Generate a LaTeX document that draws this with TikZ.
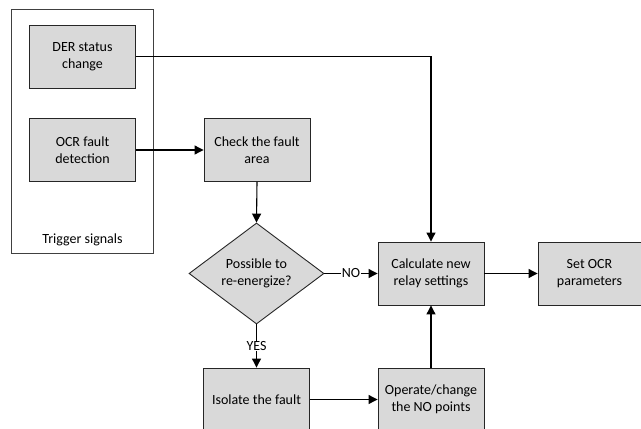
\documentclass[tikz,border=0pt]{standalone}
\usepackage{fontspec}
\setmainfont{Carlito}
\usetikzlibrary{shapes.geometric,arrows.meta}
\tikzset{
  box/.style={draw=black!85, fill=black!15, line width=0.9pt, minimum width=106pt, minimum height=63pt, align=center, inner sep=2pt, font=\fontsize{14}{16.7}\selectfont},
  dec/.style={draw=black!85, fill=black!15, line width=0.9pt, shape=diamond, aspect=1.34, minimum width=135pt, minimum height=101pt, inner sep=0pt, align=center, font=\fontsize{14}{16.7}\selectfont},
  arr/.style={line width=1.1pt, -{Triangle[length=9pt,width=9pt]}},
  lbl/.style={fill=white, inner sep=0.5pt, font=\fontsize{14}{15}\selectfont},
}
\begin{document}
\begin{tikzpicture}[x=1pt,y=-1pt]
\useasboundingbox (0,0) rectangle (641,429);
\node[draw=black!75, line width=0.9pt, minimum width=141.5pt, minimum height=244pt, inner sep=0pt] (trig) at (82.25,131) {};
\node[font=\fontsize{14}{15}\selectfont] (trigl) at (82.5,240) {Trigger signals};
\node[box] (der) at (82.5,56.5) {DER status\\change};
\node[box] (ocr) at (82.5,150) {OCR fault\\detection};
\node[box] (chk) at (257,150) {Check the fault\\area};
\node[dec] (pos) at (256.5,273.5) {Possible to\\re-energize?};
\node[box] (calc) at (431,273.5) {Calculate new\\relay settings};
\node[box, minimum width=103pt] (set) at (589.5,273.5) {Set OCR\\parameters};
\node[box] (iso) at (256.5,399.5) {Isolate the fault};
\node[box] (opr) at (431,399.5) {Operate/change\\the NO points};
\draw[arr] (der.east) -| (calc.north);
\draw[arr] (ocr.east) -- (chk.west);
\draw[arr] (chk.south) -- (pos.north);
\draw[arr] (pos.east) -- node[lbl] {NO} (calc.west);
\draw[arr] (calc.east) -- (set.west);
\draw[arr] (pos.south) -- node[lbl] {YES} (iso.north);
\draw[arr] (iso.east) -- (opr.west);
\draw[arr] (opr.north) -- (calc.south);
\end{tikzpicture}
\end{document}
